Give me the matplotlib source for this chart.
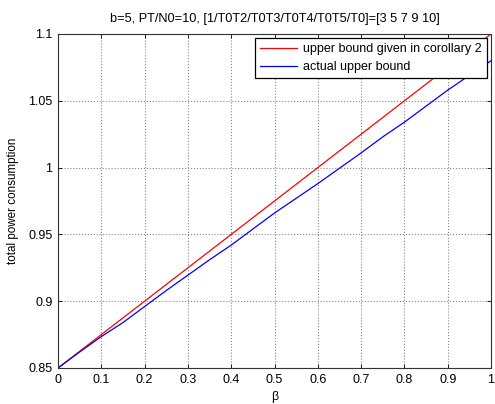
import matplotlib
matplotlib.use("Agg")
import matplotlib.pyplot as plt

plt.rcParams['font.family'] = ['Liberation Sans', 'DejaVu Sans']

beta_red = [0.0, 0.1, 0.2, 0.3, 0.4, 0.5, 0.6, 0.7, 0.8, 0.9, 1.0]
red_vals = [0.85, 0.875, 0.90, 0.925, 0.95, 0.975, 1.00, 1.025, 1.05, 1.075, 1.10]

beta_blue = [0.0, 0.05, 0.1, 0.15, 0.2, 0.25, 0.3, 0.35, 0.4, 0.45, 0.5,
             0.55, 0.6, 0.65, 0.7, 0.75, 0.8, 0.85, 0.9, 0.95, 1.0]
blue_vals = [0.85, 0.862, 0.8735, 0.884, 0.896, 0.908, 0.9195, 0.931, 0.942, 0.954, 0.966,
             0.977, 0.988, 0.9995, 1.011, 1.023, 1.034, 1.046, 1.058, 1.069, 1.080]

xticks = [0, 0.1, 0.2, 0.3, 0.4, 0.5, 0.6, 0.7, 0.8, 0.9, 1]
xticklabels = ['0', '0.1', '0.2', '0.3', '0.4', '0.5', '0.6', '0.7', '0.8', '0.9', '1']
yticks = [0.85, 0.9, 0.95, 1.0, 1.05, 1.1]
yticklabels = ['0.85', '0.9', '0.95', '1', '1.05', '1.1']

fig = plt.figure(figsize=(4.95, 4.04), dpi=100)
ax = fig.add_axes([58/495, 1-368/404, (491-58)/495, (368-34)/404])

ax.plot(beta_red, red_vals, color='#ff0000', lw=0.9, label='upper bound given in corollary 2')
ax.plot(beta_blue, blue_vals, color='#0000ff', lw=0.9, label='actual upper bound')

ax.set_xlim(0, 1)
ax.set_ylim(0.85, 1.1)
ax.set_xticks(xticks)
ax.set_xticklabels(xticklabels)
ax.set_yticks(yticks)
ax.set_yticklabels(yticklabels)
ax.tick_params(direction='in', top=True, right=True, labelsize=9, length=3, width=0.6, pad=4)
ax.grid(True, color='#888888', linestyle=':', linewidth=0.8)
for s in ax.spines.values():
    s.set_linewidth(0.8)
    s.set_color('#333333')

ax.set_xlabel('β', fontsize=9)
ax.xaxis.set_label_coords(0.5, -(397 - 368) / 334, transform=ax.transAxes)
ax.xaxis.label.set_va('center')
ax.set_ylabel('total power consumption', fontsize=8.4)
ax.yaxis.set_label_coords(-(58 - 13) / 433, 0.5, transform=ax.transAxes)
ax.yaxis.label.set_va('center')
ax.set_title('b=5, PT/N0=10, [1/T0T2/T0T3/T0T4/T0T5/T0]=[3 5 7 9 10]', fontsize=9.2, pad=9)

leg = ax.legend(loc='upper right', fontsize=9, frameon=True, fancybox=False,
                edgecolor='black', framealpha=1, borderaxespad=0.35,
                handlelength=3.0, handletextpad=0.45, borderpad=0.4, labelspacing=0.45)
leg.get_frame().set_linewidth(0.9)

fig.savefig('out.png', dpi=100)
